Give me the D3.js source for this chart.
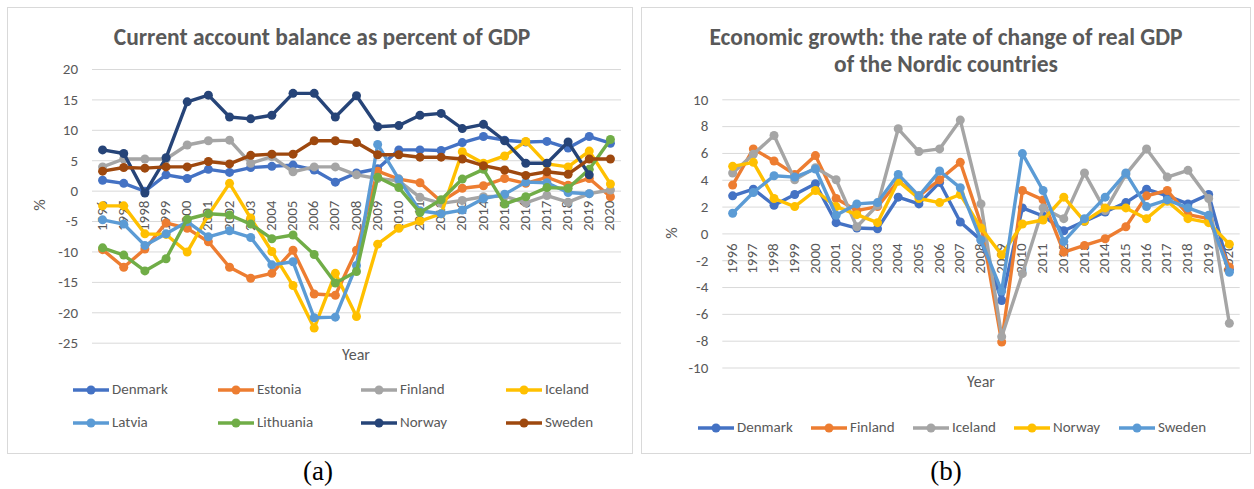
<!DOCTYPE html>
<html><head><meta charset="utf-8">
<script src="https://cdn.jsdelivr.net/npm/d3@7"></script>
<style>body{margin:0;background:#fff}svg{display:block}</style>
</head><body><svg id="c" width="1254" height="489"></svg>
<script>
const years = ["1996","1997","1998","1999","2000","2001","2002","2003","2004","2005","2006","2007","2008","2009","2010","2011","2012","2013","2014","2015","2016","2017","2018","2019","2020"];

// (a) Current account balance as percent of GDP
const caDenmark   = [1.7,1.2,-0.1,2.6,2.0,3.5,3.0,3.8,4.0,4.2,3.4,1.4,2.9,3.6,6.7,6.7,6.6,7.9,8.9,8.3,8.0,8.1,7.0,8.9,7.8];
const caEstonia   = [-9.7,-12.6,-9.6,-5.3,-6.2,-8.4,-12.6,-14.4,-13.6,-9.8,-17.0,-17.2,-9.8,3.2,1.9,1.3,-1.8,0.4,0.8,2.0,1.2,2.2,0.9,2.0,-1.0];
const caFinland   = [3.9,5.2,5.2,5.2,7.5,8.2,8.3,4.5,5.6,3.1,3.9,3.9,2.6,2.0,1.6,-1.1,-2.1,-1.6,-1.0,-0.9,-2.0,-0.8,-1.9,-0.5,0.1];
const caIceland   = [-2.5,-2.5,-7.1,-7.2,-10.1,-4.0,1.2,-4.5,-10.0,-15.6,-22.6,-13.6,-20.7,-8.8,-6.2,-5.0,-3.8,6.4,4.5,5.7,8.1,4.4,3.9,6.5,1.1];
const caLatvia    = [-4.8,-5.5,-9.0,-7.1,-5.1,-7.6,-6.6,-7.7,-12.2,-11.7,-20.9,-20.8,-12.3,7.6,1.9,-3.3,-3.8,-3.2,-1.3,-0.6,1.4,1.3,-0.3,-0.5,null];
const caLithuania = [-9.4,-10.6,-13.2,-11.2,-4.7,-3.8,-4.0,-5.5,-7.9,-7.3,-10.5,-15.2,-13.3,2.2,0.5,-3.6,-1.5,1.9,3.5,-2.2,-1.0,0.5,0.4,3.5,8.4];
const caNorway    = [6.7,6.1,-0.4,5.4,14.6,15.7,12.1,11.8,12.4,16.0,16.0,12.1,15.6,10.5,10.7,12.4,12.7,10.2,10.9,8.2,4.5,4.5,8.0,2.6,null];
const caSweden    = [3.2,3.8,3.7,3.9,3.9,4.8,4.4,5.8,6.0,6.0,8.2,8.2,7.9,5.9,5.9,5.5,5.5,5.2,4.1,3.4,2.5,3.1,2.7,5.2,5.2];
const caNames  = ["Denmark","Estonia","Finland","Iceland","Latvia","Lithuania","Norway","Sweden"];
const caColors = ["#4472C4","#ED7D31","#A5A5A5","#FFC000","#5B9BD5","#70AD47","#264478","#9E480E"];
const caTicks  = [20,15,10,5,0,-5,-10,-15,-20,-25];

// (b) Economic growth
const gDenmark = [2.8,3.3,2.1,2.9,3.7,0.8,0.4,0.35,2.7,2.2,3.8,0.85,-0.5,-5.0,1.9,1.3,0.2,0.9,1.6,2.3,3.3,2.8,2.2,2.9,-2.7];
const gFinland = [3.6,6.3,5.4,4.4,5.8,2.6,1.7,2.0,3.9,2.8,4.0,5.3,0.7,-8.1,3.2,2.5,-1.4,-0.9,-0.4,0.5,2.8,3.2,1.4,1.1,-2.5];
const gIceland = [4.5,5.9,7.3,4.0,4.9,4.0,0.5,2.1,7.8,6.1,6.3,8.45,2.2,-7.7,-3.0,1.9,1.1,4.5,1.7,4.4,6.3,4.2,4.7,2.6,-6.7];
const gNorway  = [5.0,5.3,2.6,2.0,3.2,2.0,1.4,0.8,3.9,2.6,2.3,2.9,0.4,-1.6,0.7,1.0,2.7,0.9,1.9,1.9,1.1,2.4,1.1,0.8,-0.8];
const gSweden  = [1.5,3.05,4.3,4.2,4.8,1.35,2.2,2.3,4.4,2.8,4.65,3.4,-0.5,-4.3,5.95,3.2,-0.6,1.1,2.7,4.5,2.0,2.5,1.9,1.35,-2.9];
const gNames  = ["Denmark","Finland","Iceland","Norway","Sweden"];
const gColors = ["#4472C4","#ED7D31","#A5A5A5","#FFC000","#5B9BD5"];
const gTicks  = [10,8,6,4,2,0,-2,-4,-6,-8,-10];

const svg = d3.select("#c");
const FONT = "Carlito, Calibri, Lato, 'Open Sans', sans-serif";
const TXT = "#595959";

function chart(o) {
  const g = svg.append("g");
  g.append("rect").attr("x", o.box[0]+0.5).attr("y", o.box[1]+0.5)
    .attr("width", o.box[2]).attr("height", o.box[3])
    .attr("fill", "#fff").attr("stroke", "#D9D9D9").attr("stroke-width", 1);
  o.title.forEach((t, i) => g.append("text").attr("x", o.titleX).attr("y", o.titleY + i*27)
    .attr("text-anchor", "middle").attr("font-family", FONT).attr("font-size", 23.5)
    .attr("font-weight", "bold").attr("fill", TXT).text(t));
  const x = d3.scalePoint().domain(years).range(o.xr).padding(0.5);
  const y = d3.scaleLinear().domain(o.yd).range(o.yr);
  // gridlines
  const ya = d3.axisLeft(y).tickValues(o.ticks).tickSize(-(o.xr[1]-o.xr[0])).tickPadding(14).tickFormat(d3.format("d"));
  const ag = g.append("g").attr("transform", `translate(${o.xr[0]},0)`).call(ya);
  ag.select(".domain").remove();
  ag.selectAll(".tick line").attr("stroke", "#D9D9D9").attr("stroke-width", 1);
  ag.selectAll(".tick text").attr("font-family", FONT).attr("font-size", 15).attr("fill", TXT)
    .text(d => d < 0 ? "-" + Math.abs(d) : d);
  // category axis at 0
  const xa = d3.axisBottom(x).tickSize(0).tickPadding(0);
  const xg = g.append("g").attr("transform", `translate(0,${y(0)})`).call(xa);
  xg.select(".domain").remove();
  xg.selectAll(".tick text").attr("font-family", FONT).attr("font-size", 15).attr("fill", TXT)
    .attr("text-anchor", "end").attr("dy", null).attr("y", 0)
    .attr("transform", "translate(0,10) rotate(-90)").attr("dominant-baseline", "middle").attr("x", 0);
  // axis titles
  g.append("text").attr("transform", `translate(${o.pctX},${o.pctY}) rotate(-90)`)
    .attr("text-anchor", "middle").attr("dominant-baseline", "middle")
    .attr("font-family", FONT).attr("font-size", 16).attr("fill", TXT).text("%");
  g.append("text").attr("x", o.yearX).attr("y", o.yearY).attr("text-anchor", "middle")
    .attr("dominant-baseline", "middle").attr("font-family", FONT).attr("font-size", 16).attr("fill", TXT).text("Year");
  // series
  const line = d3.line().defined(d => d[1] !== null).x(d => x(d[0])).y(d => y(d[1]));
  o.series.forEach((s, i) => {
    const pts = years.map((yr, k) => [yr, s[k]]);
    const sg = g.append("g");
    sg.append("path").attr("d", line(pts)).attr("fill", "none").attr("stroke", o.colors[i])
      .attr("stroke-width", 3.4).attr("stroke-linejoin", "round").attr("stroke-linecap", "round");
    sg.selectAll("circle").data(pts.filter(d => d[1] !== null)).join("circle")
      .attr("cx", d => x(d[0])).attr("cy", d => y(d[1])).attr("r", 4.5).attr("fill", o.colors[i]);
  });
  // legend
  o.names.forEach((n, i) => {
    const [lx, ly] = o.legendPos(i);
    const lg = g.append("g");
    lg.append("line").attr("x1", lx).attr("x2", lx+36).attr("y1", ly).attr("y2", ly)
      .attr("stroke", o.colors[i]).attr("stroke-width", 3.4);
    lg.append("circle").attr("cx", lx+18).attr("cy", ly).attr("r", 4.5).attr("fill", o.colors[i]);
    lg.append("text").attr("x", lx+39).attr("y", ly).attr("dominant-baseline", "middle")
      .attr("font-family", FONT).attr("font-size", 15).attr("fill", TXT).text(n);
  });
}

chart({
  box: [7, 7, 625, 446], title: ["Current account balance as percent of GDP"], titleX: 322, titleY: 45,
  xr: [92, 621], yd: [-25, 20], yr: [342.7, 69], ticks: caTicks,
  pctX: 41, pctY: 205, yearX: 356, yearY: 356,
  series: [caDenmark, caEstonia, caFinland, caIceland, caLatvia, caLithuania, caNorway, caSweden],
  names: caNames, colors: caColors,
  legendPos: i => [[73,218,361,506][i%4], [390,423][Math.floor(i/4)]]
});
chart({
  box: [641, 7, 609, 446], title: ["Economic growth: the rate of change of real GDP", "of the Nordic countries"], titleX: 946, titleY: 45,
  xr: [722.3, 1239.7], yd: [-10, 10], yr: [367.5, 99.3], ticks: gTicks,
  pctX: 673, pctY: 233, yearX: 981, yearY: 383,
  series: [gDenmark, gFinland, gIceland, gNorway, gSweden],
  names: gNames, colors: gColors,
  legendPos: i => [[698,811,913,1014,1119][i], 428]
});
svg.append("text").attr("x", 318).attr("y", 480).attr("text-anchor", "middle")
  .attr("font-family", "'Liberation Serif', 'Times New Roman', serif").attr("font-size", 27).attr("fill", "#000").text("(a)");
svg.append("text").attr("x", 946).attr("y", 480).attr("text-anchor", "middle")
  .attr("font-family", "'Liberation Serif', 'Times New Roman', serif").attr("font-size", 27).attr("fill", "#000").text("(b)");
</script></body></html>
